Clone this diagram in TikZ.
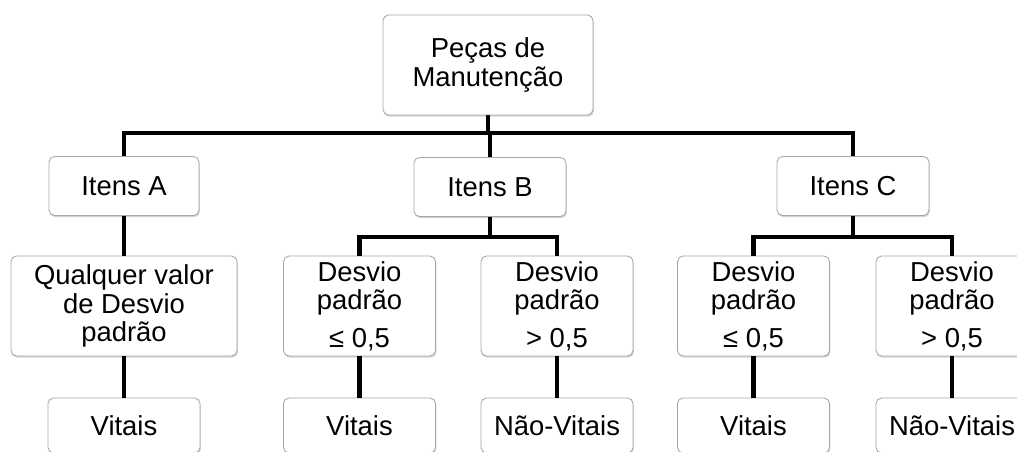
\documentclass[tikz,border=0pt]{standalone}
\usepackage{fontspec}
\setmainfont{Liberation Sans}
\usetikzlibrary{shadows}
\tikzset{
  caixa/.style={draw=gray!70,line width=0.6pt,fill=white,rounded corners=4pt,align=center,inner sep=0pt,
    font=\fontsize{19.5}{20.5}\selectfont,
    drop shadow={shadow xshift=0.6pt,shadow yshift=-1.2pt,opacity=0.35,fill=gray}},
  alta/.style={minimum width=3.8cm,minimum height=2.5cm},
  baixa/.style={minimum width=3.8cm,minimum height=1.375cm},
  liga/.style={line width=3pt}
}
\begin{document}
\begin{tikzpicture}[x=0.025cm,y=-0.025cm]
                \useasboundingbox(0,0)rectangle(1017,452);
                \node[caixa,minimum width=5.25cm,minimum height=2.5cm](1)at(488,65){Peças de\\Manutenção};
                \node[caixa,minimum width=3.75cm,minimum height=1.475cm](2)at(124,186){Itens A};
                \node[caixa,minimum width=3.8cm,minimum height=1.475cm](3)at(490,187){Itens B};
                \node[caixa,minimum width=3.8cm,minimum height=1.475cm](4)at(853,186){Itens C};
                \node[caixa,alta,minimum width=5.65cm](5)at(124,306){Qualquer valor\\de Desvio\\padrão};
                \node[caixa,alta](6)at(359.5,306){Desvio\\padrão\\[6pt]≤ 0,5};
                \node[caixa,alta](7)at(557,306){Desvio\\padrão\\[6pt]> 0,5};
                \node[caixa,alta](8)at(753.5,306){Desvio\\padrão\\[6pt]≤ 0,5};
                \node[caixa,alta](9)at(952,306){Desvio\\padrão\\[6pt]> 0,5};
                \node[caixa,baixa](10)at(124,425.5){Vitais};
                \node[caixa,baixa](11)at(359.5,425.5){Vitais};
                \node[caixa,baixa](12)at(557,425.5){Não-Vitais};
                \node[caixa,baixa](13)at(753.5,425.5){Vitais};
                \node[caixa,baixa](14)at(952,425.5){Não-Vitais};
                \coordinate(j1)at(488,133);
                \coordinate(jb)at(490,237);
                \coordinate(jc)at(853,237);
                \draw[liga](1.south)--(j1);
                \draw[liga](2.north)|-(j1)-|(4.north);
                \draw[liga](3.north)--(3.north|-j1);
                \draw[liga](2.south)--(5.north);
                \draw[liga](3.south)--(jb);
                \draw[liga](6.north)|-(jb)-|(7.north);
                \draw[liga](4.south)--(jc);
                \draw[liga](8.north)|-(jc)-|(9.north);
                \draw[liga](5.south)--(10.north);
                \draw[liga](6.south)--(11.north);
                \draw[liga](7.south)--(12.north);
                \draw[liga](8.south)--(13.north);
                \draw[liga](9.south)--(14.north);
            \end{tikzpicture}
\end{document}
